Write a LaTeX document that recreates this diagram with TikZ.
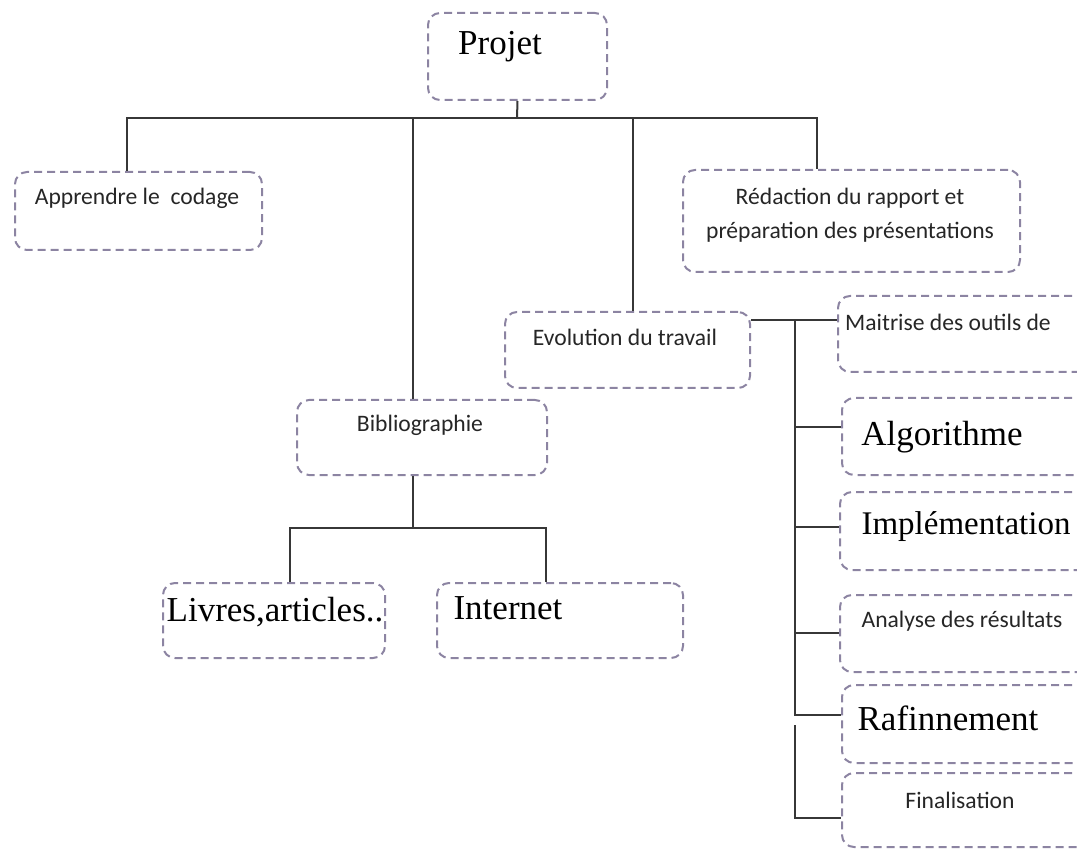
\documentclass[tikz,border=0pt]{standalone}
\usepackage{fontspec}
\setmainfont{Liberation Serif}
\setsansfont{Carlito}
\usetikzlibrary{fit}
\definecolor{boxline}{RGB}{140,132,162}
\definecolor{linkline}{RGB}{55,55,55}
\tikzset{
  box/.style={draw=boxline, line width=1pt, dash pattern=on 4pt off 2.5pt, rounded corners=6pt, inner sep=0pt},
  link/.style={draw=linkline, line width=1pt},
  big/.style={font=\fontsize{17.5}{20}\selectfont},
  small/.style={font=\sffamily\fontsize{11.8}{17}\selectfont, text=black!85, align=center}
}
\begin{document}
\begin{tikzpicture}[x=0.5pt,y=-0.5pt]
\useasboundingbox (0,0) rectangle (1077,850);
\clip (0,0) rectangle (1077,850);
\node[box, fit={(428,13) (607,100)}] (projet) {};
\node[box, fit={(15,172) (262,250)}] (app) {};
\node[box, fit={(683,170) (1020,272)}] (red) {};
\node[box, fit={(505,312) (750,388)}] (evo) {};
\node[box, fit={(297,400) (547,475)}] (bib) {};
\node[box, fit={(163,583) (385,658)}] (livres) {};
\node[box, fit={(437,583) (683,658)}] (internet) {};
\node[box, fit={(838,296) (1110,372)}] (maitrise) {};
\node[box, fit={(842,398) (1110,475)}] (algo) {};
\node[box, fit={(840,492) (1110,570)}] (impl) {};
\node[box, fit={(840,595) (1110,672)}] (analyse) {};
\node[box, fit={(842,685) (1110,763)}] (raf) {};
\node[box, fit={(842,773) (1110,847)}] (fin) {};
\node[big] at (500,47) {Projet};
\node[small] at (137,198) {Apprendre le~ codage};
\node[small] at (850,215) {Rédaction du rapport et\\préparation des présentations};
\node[small] at (625,337) {Evolution du travail};
\node[small] at (420,425) {Bibliographie};
\node[big] at (275,612) {Livres,articles..};
\node[big] at (508,608) {Internet};
\node[small] at (948,322) {Maitrise des outils de};
\node[big] at (942,437) {Algorithme};
\node[big, font=\fontsize{16.5}{20}\selectfont] at (966,527) {Implémentation};
\node[small] at (962,621) {Analyse des résultats};
\node[big] at (948,718) {Rafinnement};
\node[small] at (960,800) {Finalisation};
\coordinate (bus) at (517,118);
\draw[link] (projet.south) -- (bus);
\draw[link] (127,0 |- app.north) -- (127,118) -- (817,118) -- (817,0 |- red.north);
\draw[link] (413,118) -- (413,0 |- bib.north);
\draw[link] (633,118) -- (633,0 |- evo.north);
\draw[link] (413,0 |- bib.south) -- (413,528);
\draw[link] (290,0 |- livres.north) -- (290,528) -- (546,528) -- (546,0 |- internet.north);
\draw[link] (evo.east |- 0,320) -- (maitrise.west |- 0,320);
\draw[link] (795,320) -- (795,715) -- (raf.west |- 0,715);
\draw[link] (795,427) -- (algo.west |- 0,427);
\draw[link] (795,527) -- (impl.west |- 0,527);
\draw[link] (795,633) -- (analyse.west |- 0,633);
\draw[link] (795,725) -- (795,818) -- (fin.west |- 0,818);
\end{tikzpicture}
\end{document}
